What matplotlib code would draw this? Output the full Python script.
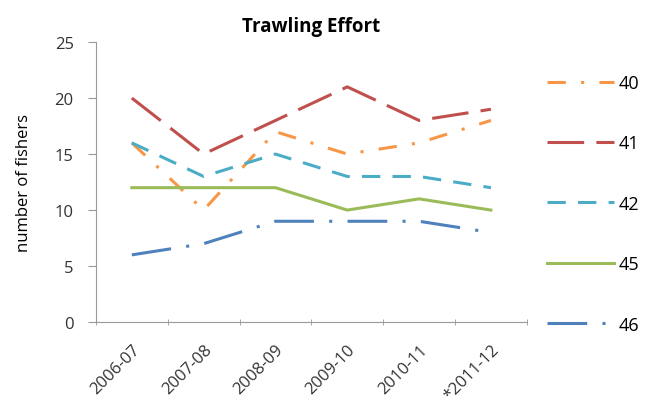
import numpy as np
import matplotlib.pyplot as plt

plt.rcParams['font.family'] = ['Open Sans', 'DejaVu Sans']

# seasons and number of fishers per area
seasons = ['2006-07', '2007-08', '2008-09', '2009-10', '2010-11', '*2011-12']
area_40 = [16, 10, 17, 15, 16, 18]
area_41 = [20, 15, 18, 21, 18, 19]
area_42 = [16, 13, 15, 13, 13, 12]
area_45 = [12, 12, 12, 10, 11, 10]
area_46 = [6, 7, 9, 9, 9, 8]

series = [
    ('40', area_40, '#F79646', (0, (6, 5, 1, 5))),
    ('41', area_41, '#C0504D', (0, (12, 4))),
    ('42', area_42, '#4BACC6', (0, (6, 4))),
    ('45', area_45, '#9BBB59', '-'),
    ('46', area_46, '#4F81BD', (0, (13, 5, 1, 5))),
]

fig = plt.figure(figsize=(6.48, 4.10), dpi=100)
ax = fig.add_axes([0.148, 0.212, 0.665, 0.683])

x = np.arange(len(seasons))
for name, vals, col, ls in series:
    ax.plot(x, vals, color=col, linestyle=ls, linewidth=2.2, label=name)

ax.set_xlim(-0.5, len(seasons) - 0.5)
ax.set_ylim(0, 25)
ax.set_yticks(range(0, 26, 5))
ax.set_xticks(x)
ax.set_xticklabels(seasons, rotation=45, ha='right', rotation_mode='anchor', fontsize=12)
ax.set_xticks(np.arange(-0.5, len(seasons)), minor=True)
ax.tick_params(axis='x', which='major', length=0, pad=14)
ax.tick_params(axis='x', which='minor', length=5, color='#999999', direction='inout')
ax.tick_params(axis='y', length=6, pad=10, color='#999999', labelsize=12, colors='#333333')
ax.tick_params(axis='x', labelcolor='#333333')

for s in ['top', 'right']:
    ax.spines[s].set_visible(False)
for s in ['left', 'bottom']:
    ax.spines[s].set_color('#999999')

ax.set_ylabel('number of fishers', fontsize=12, labelpad=16)
ax.set_title('Trawling Effort', fontsize=13.5, fontweight='bold', pad=8)

ax.legend(loc='upper left', bbox_to_anchor=(1.03, 0.912), borderaxespad=0, frameon=False,
          handlelength=3.7, labelspacing=2.35, handletextpad=0.25, fontsize=13)

fig.savefig('out.png', dpi=100)
